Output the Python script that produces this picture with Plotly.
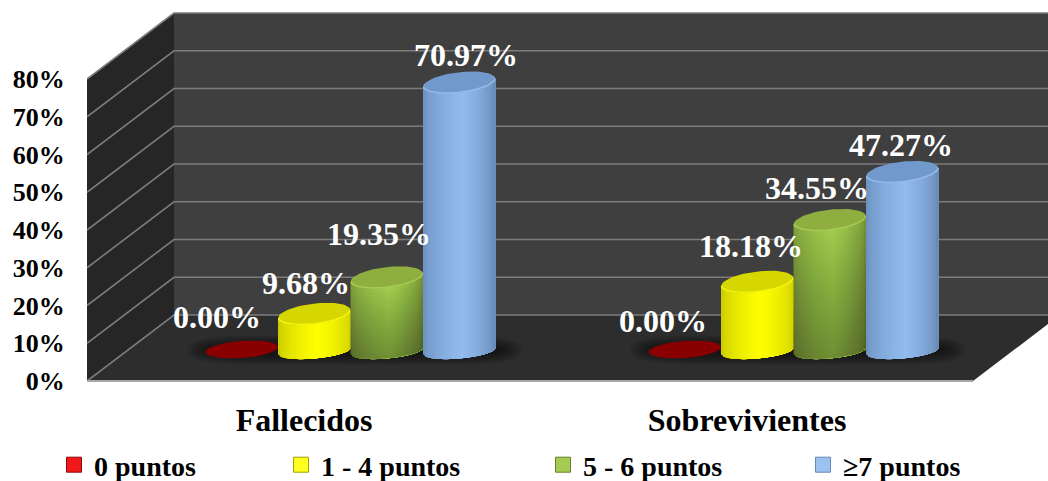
import math
import plotly.graph_objects as go

# Chart data
categories = ["Fallecidos", "Sobrevivientes"]
series_names = ["0 puntos", "1 - 4 puntos", "5 - 6 puntos", "≥7 puntos"]
puntos_0 = [0.00, 0.00]
puntos_1_4 = [9.68, 18.18]
puntos_5_6 = [19.35, 34.55]
puntos_7 = [70.97, 47.27]
y_ticks = [0, 10, 20, 30, 40, 50, 60, 70, 80]
y_tick_labels = ["0%", "10%", "20%", "30%", "40%", "50%", "60%", "70%", "80%"]

# Page and axis scale
W, H = 1048, 481
LEFT_PX, FLOOR_PX = 87, 381
X_PX = 443.0      # pixels per category
Y_PX = 3.775      # pixels per percentage point
SERIF = "Liberation Serif"

# Oblique depth of the box and placement of the cylinders inside it
DEPTH_X, DEPTH_Y = 87 / X_PX, 66 / Y_PX
BAR_SHIFT_X, BAR_SHIFT_Y = 42 / X_PX, 30 / Y_PX
BAR_W = 72.5 / X_PX
RADIUS_X = BAR_W / 2
RADIUS_Y = 10.0 / Y_PX
TILT = 4.0 / Y_PX
BASE_RADIUS_Y = 7.5 / Y_PX
BASE_TILT = 3.2 / Y_PX
N_STRIPS = 36

WALL_BACK, WALL_SIDE, FLOOR = "#3f3f3f", "#262626", "#2d2d2d"
GRID, EDGE = "#7c7c7c", "#a8a8a8"

STYLES = [
    dict(cap="#8a0000", rim="#950000", edge_l=None, mid=None, edge_r=None, fade=0, swatch="#f01818", swatch_dark="#8a0a0a"),
    dict(cap="#d6d600", rim="#f4f410", edge_l=(196, 196, 0), mid=(255, 255, 0), edge_r=(205, 205, 0), fade=0, swatch="#ffff20", swatch_dark="#a0a000"),
    dict(cap="#8fae40", rim="#a6cb52", edge_l=(120, 150, 55), mid=(160, 203, 78), edge_r=(110, 138, 50), fade=0.017, swatch="#a6cb52", swatch_dark="#66802c"),
    dict(cap="#7299cc", rim="#94bbea", edge_l=(104, 140, 188), mid=(146, 188, 238), edge_r=(98, 130, 172), fade=0, swatch="#9cc2f0", swatch_dark="#6688b4"),
]
# Offsets of the value labels from the top of each cylinder (px)
LABEL_DX = [[-25, -8, -8, 7], [-22, -6, -13, -1]]
LABEL_DY = [[34, 31, 44, 28], [30, 36, 33, 28]]

fig = go.Figure()


def poly(xs, ys, color, width=0.0):
    fig.add_trace(go.Scatter(
        x=xs, y=ys, mode="lines", fill="toself", fillcolor=color,
        line=dict(color=color, width=width), hoverinfo="skip", showlegend=False,
    ))


def seg(xs, ys, color, width):
    fig.add_trace(go.Scatter(
        x=xs, y=ys, mode="lines", line=dict(color=color, width=width),
        hoverinfo="skip", showlegend=False,
    ))


def ellipse(cx, cy, scale=1.0, lift=0.0, ry=RADIUS_Y, tilt=TILT):
    xs, ys = [], []
    for k in range(73):
        th = 2 * math.pi * k / 72
        xs.append(cx + scale * RADIUS_X * math.cos(th))
        ys.append(cy + lift + scale * (tilt * math.cos(th) + ry * math.sin(th)))
    return xs, ys


def front_arc(u, ry=RADIUS_Y, tilt=TILT):
    """Height of the visible front rim at normalised position u across the cylinder."""
    return tilt * u - ry * math.sqrt(max(0.0, 1 - u * u))


def mix(a, b, f):
    return tuple(round(a[i] + (b[i] - a[i]) * f) for i in range(3))


def strip_colour(style, u):
    # Peak of the highlight sits slightly right of centre
    peak = 0.08
    if u < peak:
        f = ((u + 1) / (peak + 1)) ** 0.55
        c = mix(style["edge_l"], style["mid"], f)
    else:
        f = ((1 - u) / (1 - peak)) ** 0.55
        c = mix(style["edge_r"], style["mid"], f)
    return "rgb(%d,%d,%d)" % c


def cylinder(cx, cy, value, style):
    top = cy + value
    if value > 0:
        # Each slice runs to the right edge, so the next one paints over it without seams
        for j in range(N_STRIPS):
            u0 = -1 + 2 * j / N_STRIPS
            us = [u0 + (1 - u0) * k / 24 for k in range(25)]
            xs = [cx + RADIUS_X * u for u in us]
            low = [cy + front_arc(u, BASE_RADIUS_Y, BASE_TILT) for u in us]
            up = [top + front_arc(u) for u in us]
            poly(xs + xs[::-1] + xs[:1], low + up[::-1] + low[:1],
                 strip_colour(style, u0 + 1 / N_STRIPS))
        # Body darkens gradually toward the floor
        if style["fade"]:
            us = [-1 + 2 * k / 40 for k in range(41)]
            xs = [cx + RADIUS_X * u for u in us]
            low = [cy + front_arc(u, BASE_RADIUS_Y, BASE_TILT) for u in us]
            for step in range(1, 20):
                up = [cy + value * (1 - step / 20) + front_arc(u) for u in us]
                poly(xs + xs[::-1], low + up[::-1], "rgba(20,30,0,%.3f)" % style["fade"])
        # Cap: bright rim with a darker disc inset behind it
        poly(*ellipse(cx, top), style["rim"])
        poly(*ellipse(cx, top, 0.97, 1.2 / Y_PX), style["cap"])
    else:
        # A zero value leaves only a flat disc on the floor
        poly(*ellipse(cx, top, 1.0, 1.5 / Y_PX, 8.5 / Y_PX, 2.5 / Y_PX), style["cap"])


# Back wall, side wall and floor
x_end = 2 + DEPTH_X
top_v = y_ticks[-1]
poly([DEPTH_X, x_end, x_end, DEPTH_X, DEPTH_X],
     [DEPTH_Y, DEPTH_Y, top_v + DEPTH_Y, top_v + DEPTH_Y, DEPTH_Y], WALL_BACK)
poly([0, DEPTH_X, DEPTH_X, 0, 0],
     [0, DEPTH_Y, top_v + DEPTH_Y, top_v, 0], WALL_SIDE)
poly([0, 2, x_end, DEPTH_X, 0], [0, 0, DEPTH_Y, DEPTH_Y, 0], FLOOR)

# Gridlines wrap around the side wall and run along the back wall
for v in y_ticks:
    seg([0, DEPTH_X, x_end], [v, v + DEPTH_Y, v + DEPTH_Y], GRID, 1.6)
seg([0, 2], [0, 0], EDGE, 2.2)

# Soft shadows on the floor below each group
for g in range(len(categories)):
    cx = g + 0.5 + BAR_SHIFT_X + 0.01
    cy = BAR_SHIFT_Y + 1 / Y_PX
    for layer in range(6):
        hw = (2 * BAR_W + (22 - 4 * layer) / X_PX)
        hh = (15 - 2 * layer) / Y_PX
        xs, ys = [], []
        for k in range(73):
            th = 2 * math.pi * k / 72
            c, s = math.cos(th), math.sin(th)
            xs.append(cx + hw * math.copysign(abs(c) ** 0.35, c))
            ys.append(cy + hh * math.copysign(abs(s) ** 0.7, s))
        poly(xs, ys, "rgba(0,0,0,0.10)")

# Cylinders and value labels
series_values = [puntos_0, puntos_1_4, puntos_5_6, puntos_7]
annotations = []
for g in range(len(categories)):
    for i, values in enumerate(series_values):
        cx = g + 0.5 + BAR_SHIFT_X + (i - 1.5) * BAR_W
        cylinder(cx, BAR_SHIFT_Y, values[g], STYLES[i])
        annotations.append(dict(
            x=cx, y=BAR_SHIFT_Y + values[g], text="%.2f%%" % values[g],
            showarrow=False, xanchor="center", yanchor="middle",
            xshift=LABEL_DX[g][i], yshift=LABEL_DY[g][i],
            font=dict(family=SERIF, size=32, color="white", weight=700),
        ))

# Legend entries, each placed in its own legend box
legend_text_px = [94, 321, 583, 843]
layout_legends = {}
for i, name in enumerate(series_names):
    key = "legend" if i == 0 else "legend%d" % (i + 1)
    fig.add_trace(go.Scatter(
        x=[None], y=[None], mode="markers", name=name, legend=key,
        marker=dict(symbol="square", size=15, color=STYLES[i]["swatch"],
                    line=dict(width=1, color=STYLES[i]["swatch_dark"])),
    ))
    layout_legends[key] = dict(
        x=(legend_text_px[i] - 40) / W, xanchor="left",
        y=(H - 465) / H, yanchor="middle",
        bgcolor="rgba(0,0,0,0)", borderwidth=0,
        font=dict(family=SERIF, size=28, color="black", weight=700),
    )

fig.update_layout(
    width=W, height=H,
    margin=dict(l=0, r=0, t=0, b=0, autoexpand=False),
    paper_bgcolor="white", plot_bgcolor="white",
    annotations=annotations, hovermode=False,
    xaxis=dict(
        domain=[LEFT_PX / W, 1], range=[0, (W - LEFT_PX) / X_PX],
        anchor="free", position=(H - FLOOR_PX) / H,
        tickvals=[0.49, 1.49], ticktext=categories,
        ticks="outside", ticklen=11, tickcolor="rgba(0,0,0,0)",
        showgrid=False, zeroline=False, showline=False,
        tickfont=dict(family=SERIF, size=32, color="black", weight=700),
    ),
    yaxis=dict(
        domain=[0, 1], range=[-(H - FLOOR_PX) / Y_PX, FLOOR_PX / Y_PX],
        tickvals=y_ticks, ticktext=y_tick_labels,
        ticks="outside", ticklen=16, tickcolor="rgba(0,0,0,0)",
        showgrid=False, zeroline=False, showline=False,
        tickfont=dict(family=SERIF, size=26, color="black", weight=700),
    ),
    **layout_legends,
)

fig.write_html("out.html")
